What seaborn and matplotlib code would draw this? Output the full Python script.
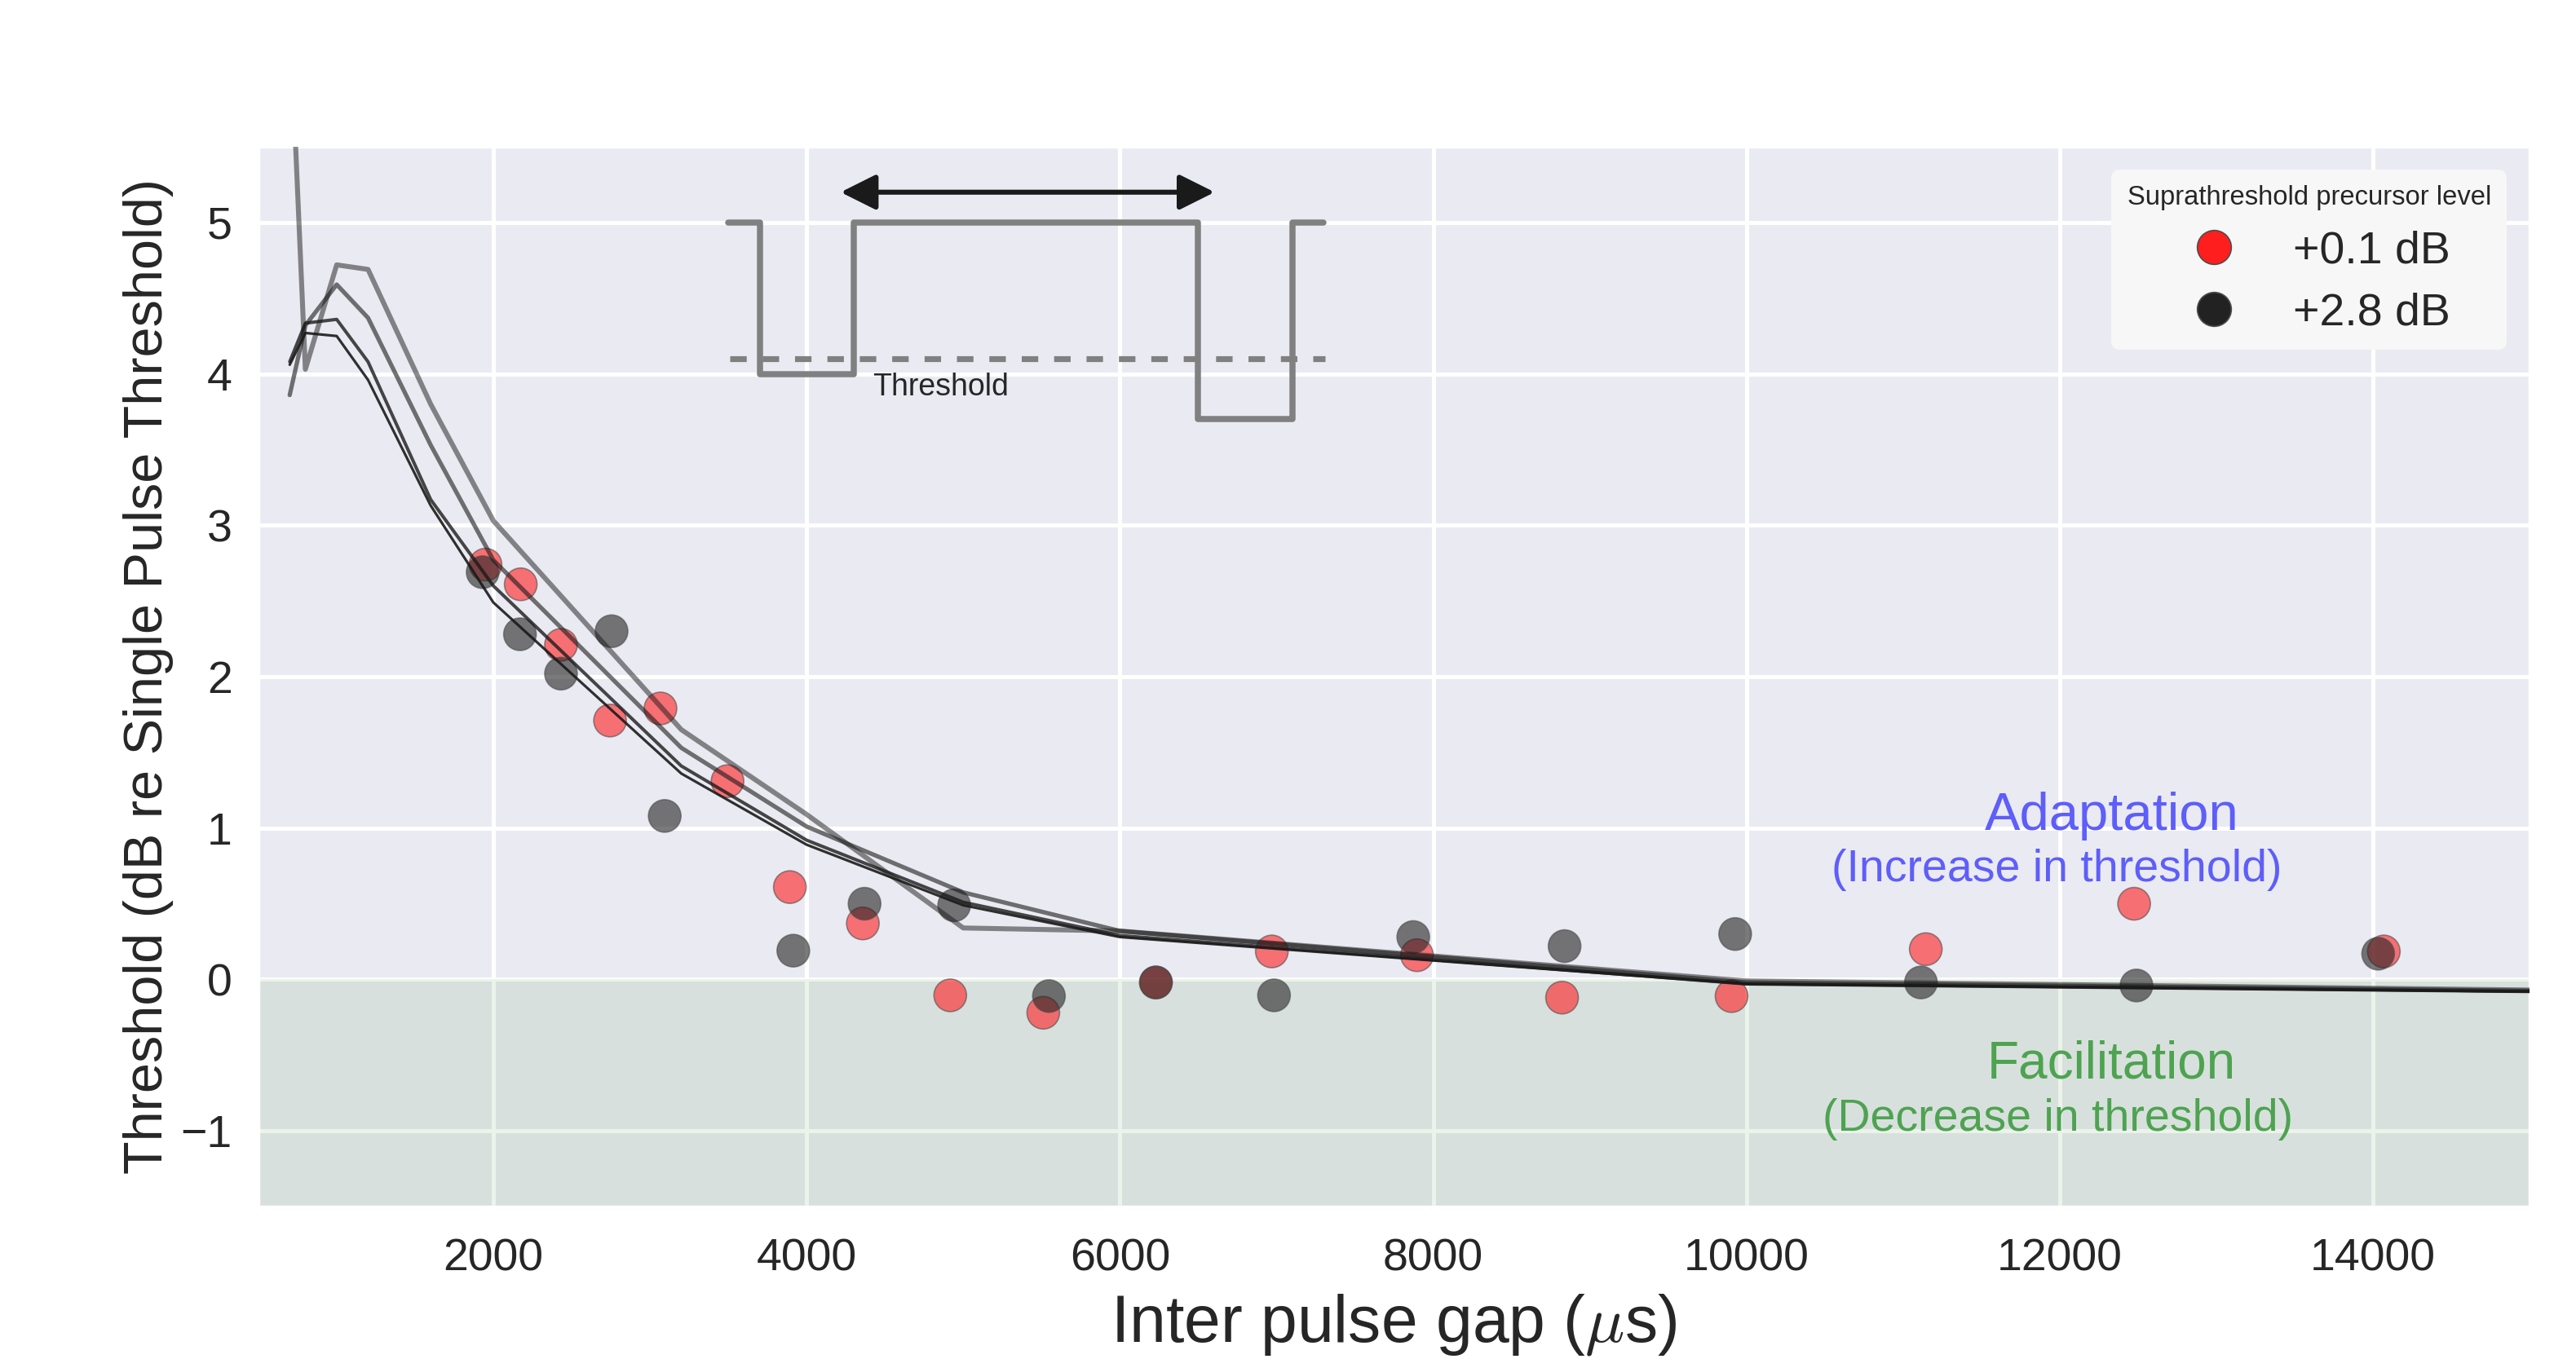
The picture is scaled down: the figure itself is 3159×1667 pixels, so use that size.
import matplotlib
matplotlib.use("Agg")
import matplotlib.pyplot as plt
import seaborn as sns
import pandas as pd
from matplotlib.lines import Line2D

# ---------------- data ----------------
gap_red = [1950, 2175, 2432, 2745, 3067, 3495, 3893, 4359, 4917, 5511, 6230, 6970, 7897, 8823, 9905, 11145, 12475, 14069]
thr_red = [2.74, 2.61, 2.21, 1.71, 1.79, 1.31, 0.61, 0.37, -0.105, -0.22, -0.02, 0.185, 0.16, -0.12, -0.11, 0.20, 0.50, 0.185]

gap_black = [1932, 2170, 2432, 2755, 3094, 3915, 4370, 4942, 5547, 6230, 6984, 7873, 8839, 9928, 11114, 12490, 14033]
thr_black = [2.69, 2.28, 2.02, 2.30, 1.08, 0.19, 0.50, 0.49, -0.11, -0.02, -0.105, 0.28, 0.22, 0.30, -0.02, -0.04, 0.17]

model_gap = [700, 800, 1000, 1200, 1600, 2000, 3200, 4000, 5000, 6000, 10000, 15000]
model_a = [6.4, 4.03, 4.72, 4.69, 3.80, 3.03, 1.65, 1.09, 0.34, 0.32, -0.01, -0.07]
model_b = [3.86, 4.32, 4.59, 4.37, 3.53, 2.77, 1.53, 1.01, 0.575, 0.32, -0.02, -0.075]
model_c = [4.08, 4.335, 4.36, 4.08, 3.17, 2.60, 1.41, 0.92, 0.51, 0.29, -0.03, -0.08]
model_d = [4.06, 4.27, 4.25, 3.96, 3.13, 2.49, 1.36, 0.89, 0.49, 0.28, -0.03, -0.08]

level_labels = ["+0.1 dB", "+2.8 dB"]
x_ticks = [2000, 4000, 6000, 8000, 10000, 12000, 14000]
y_ticks = [-1, 0, 1, 2, 3, 4, 5]

pulse_x = [3500, 3700, 3700, 4300, 4300, 6500, 6500, 7100, 7100, 7300]
pulse_y = [5, 5, 4, 4, 5, 5, 3.7, 3.7, 5, 5]
threshold_x = [3510, 7310]
threshold_y = [4.1, 4.1]
arrow_x = [4217, 6605]
arrow_y = 5.2

# ---------------- style ----------------
sns.set_theme(style="darkgrid")
plt.rcParams["font.family"] = ["Liberation Sans", "DejaVu Sans"]
plt.rcParams["mathtext.fontset"] = "cm"
plt.rcParams["grid.linewidth"] = 1.8

fig = plt.figure(figsize=(15.795, 8.335), dpi=200)
ax = fig.add_axes([0.1003, 0.1122, 0.8817, 0.7798])

ax.axhspan(-1.5, 0, color=(0.25, 0.565, 0.2), alpha=0.1, lw=0, zorder=1)

df = pd.DataFrame({
    "gap": gap_red + gap_black,
    "thr": thr_red + thr_black,
    "level": [level_labels[0]] * len(gap_red) + [level_labels[1]] * len(gap_black),
})
palette = {level_labels[0]: "#ff1e1e", level_labels[1]: "#222222"}
sns.scatterplot(data=df, x="gap", y="thr", hue="level", palette=palette, s=207,
                alpha=0.6, edgecolor="0.3", linewidth=0.6, legend=False, ax=ax, zorder=3)

for vals, lw, al in [(model_a, 2.2, 0.5), (model_b, 1.9, 0.6), (model_c, 1.45, 0.8), (model_d, 1.15, 0.9)]:
    sns.lineplot(x=model_gap, y=vals, color="k", lw=lw, alpha=al, sort=False,
                 estimator=None, ax=ax, zorder=4)

# inset schematic
ax.plot(pulse_x, pulse_y, color="gray", lw=2.7, solid_capstyle="round", zorder=4)
ax.plot(threshold_x, threshold_y, color="gray", lw=2.6, ls=(0, (2.8, 2.7)), zorder=4)
ax.annotate("", xy=(arrow_x[1], arrow_y), xytext=(arrow_x[0], arrow_y),
            arrowprops=dict(arrowstyle="<|-|>", color="k", lw=2.2, mutation_scale=33,
                            shrinkA=0, shrinkB=0), zorder=5)
ax.text(4420, 3.86, "Threshold", fontsize=13.5, color="#262626", ha="left", va="baseline")

ax.text(12330, 0.99, "Adaptation", fontsize=23.5, color="#5e5efa", ha="center", va="baseline")
ax.text(11980, 0.646, "(Increase in threshold)", fontsize=20, color="#5e5efa", ha="center", va="baseline")
ax.text(12330, -0.651, "Facilitation", fontsize=23, color="#4ea350", ha="center", va="baseline")
ax.text(11990, -1.0, "(Decrease in threshold)", fontsize=20, color="#4ea350", ha="center", va="baseline")

ax.set_xlim(500, 15000)
ax.set_ylim(-1.5, 5.5)
ax.set_xticks(x_ticks)
ax.set_yticks(y_ticks)
ax.tick_params(axis="x", labelsize=20, length=0, pad=14)
ax.tick_params(axis="y", labelsize=20, length=0, pad=11.5)
ax.set_xlabel("Inter pulse gap ($\\mu$s)", fontsize=29, labelpad=5)
ax.set_ylabel("Threshold (dB re Single Pulse Threshold)", fontsize=24, labelpad=3)

handles = [Line2D([], [], marker="o", ls="", markersize=15, markerfacecolor=palette[l],
                  markeredgecolor="0.3", markeredgewidth=0.6) for l in level_labels]
leg = ax.legend(handles, level_labels, title="Suprathreshold precursor level", title_fontsize=11.8,
                fontsize=20, loc="upper right", frameon=True, facecolor="#f7f7f7",
                edgecolor="none", framealpha=1, handletextpad=0.75, labelspacing=0.43,
                borderpad=0.35)
leg.set_zorder(6)

fig.savefig("out.png", dpi=200)
